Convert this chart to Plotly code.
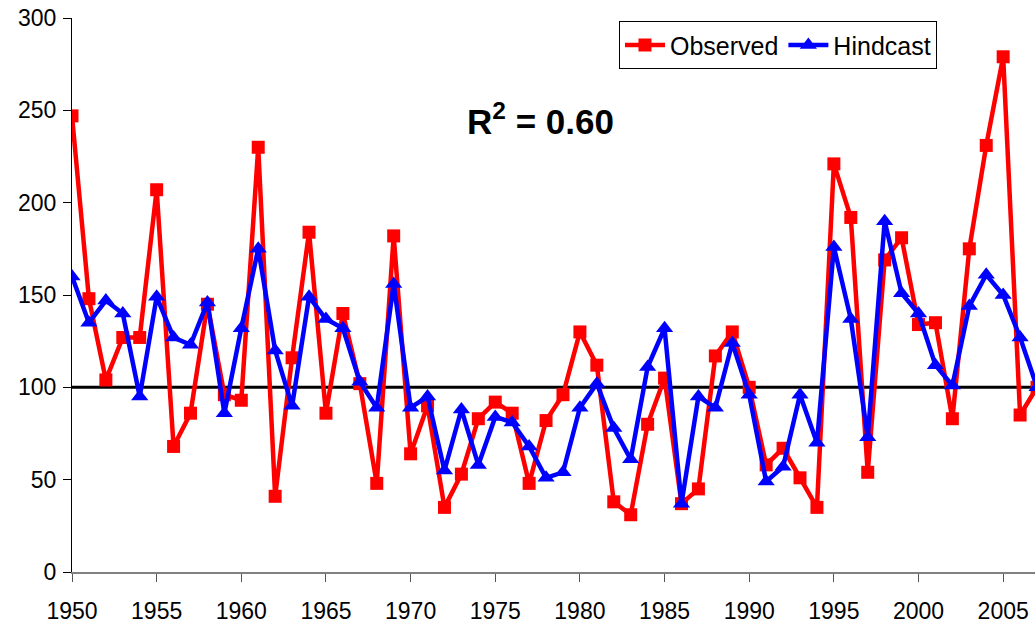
import plotly.graph_objects as go

years = list(range(1950, 2008))

observed = [247, 148, 104, 127, 127, 207, 68, 86, 145, 96,
            93, 230, 41, 116, 184, 86, 140, 102, 48, 182,
            64, 90, 35, 53, 83, 92, 86, 48, 82, 96,
            130, 112, 38, 31, 80, 105, 37, 45, 117, 130,
            100, 58, 67, 51, 35, 221, 192, 54, 169, 181,
            134, 135, 83, 175, 231, 279, 85, 100]

hindcast = [160, 135, 147, 140, 95, 149, 127, 123, 146, 86,
            132, 175, 120, 90, 149, 137, 132, 103, 89, 156,
            89, 95, 55, 88, 58, 84, 81, 68, 51, 54,
            89, 102, 78, 61, 111, 132, 37, 95, 89, 124,
            96, 49, 57, 96, 70, 176, 137, 73, 190, 151,
            140, 112, 101, 144, 161, 150, 127, 100]

average_line = 100
y_ticks = [0, 50, 100, 150, 200, 250, 300]
x_ticks = [1950, 1955, 1960, 1965, 1970, 1975, 1980, 1985, 1990, 1995, 2000, 2005]
r2_text = "<b>R<sup>2</sup> = 0.60</b>"

FONT = "Liberation Sans, Arial, sans-serif"

fig = go.Figure()
fig.add_trace(go.Scatter(
    x=years, y=observed, name="Observed", mode="lines+markers",
    line=dict(color="#FF0000", width=4.5),
    marker=dict(symbol="square", size=13, color="#FF0000"),
))
fig.add_trace(go.Scatter(
    x=years, y=hindcast, name="Hindcast", mode="lines+markers",
    line=dict(color="#0000FF", width=4.5),
    marker=dict(symbol="triangle-up", size=15, color="#0000FF"),
))

fig.add_shape(type="line", xref="paper", x0=0, x1=1, yref="y",
              y0=average_line, y1=average_line,
              line=dict(color="black", width=3), layer="below")

fig.add_annotation(text=r2_text, xref="paper", yref="paper",
                   x=0.487, y=0.818, xanchor="center", yanchor="middle",
                   showarrow=False,
                   font=dict(family=FONT, size=35, color="black"))

fig.update_layout(
    width=1035, height=627,
    margin=dict(l=72, r=0, t=18, b=55),
    paper_bgcolor="white", plot_bgcolor="white",
    font=dict(family=FONT, size=23, color="black"),
    showlegend=True,
    legend=dict(orientation="h", x=0.568, y=0.951, xanchor="left", yanchor="middle",
                bordercolor="black", borderwidth=1, bgcolor="white",
                font=dict(family=FONT, size=25), itemwidth=40,
                tracegroupgap=0),
    xaxis=dict(range=[1950, 2006.88], tickvals=x_ticks, ticks="outside",
               ticklen=8, tickcolor="#555555", showline=True, linecolor="#808080",
               linewidth=2, showgrid=False, zeroline=False, automargin=False,
               ticklabelstandoff=9, ticklabeloverflow="allow",
               tickfont=dict(family=FONT, size=23)),
    yaxis=dict(range=[0, 300], tickvals=y_ticks, ticks="outside",
               ticklen=8, tickcolor="black", showline=True, linecolor="black",
               linewidth=1, showgrid=False, zeroline=False, automargin=False,
               ticklabelstandoff=2, ticklabeloverflow="allow",
               tickfont=dict(family=FONT, size=23)),
)

fig.write_html(
    "out.html",
    config={"displayModeBar": False},
    post_script="document.body.style.margin='0';document.body.style.overflow='hidden';",
)
